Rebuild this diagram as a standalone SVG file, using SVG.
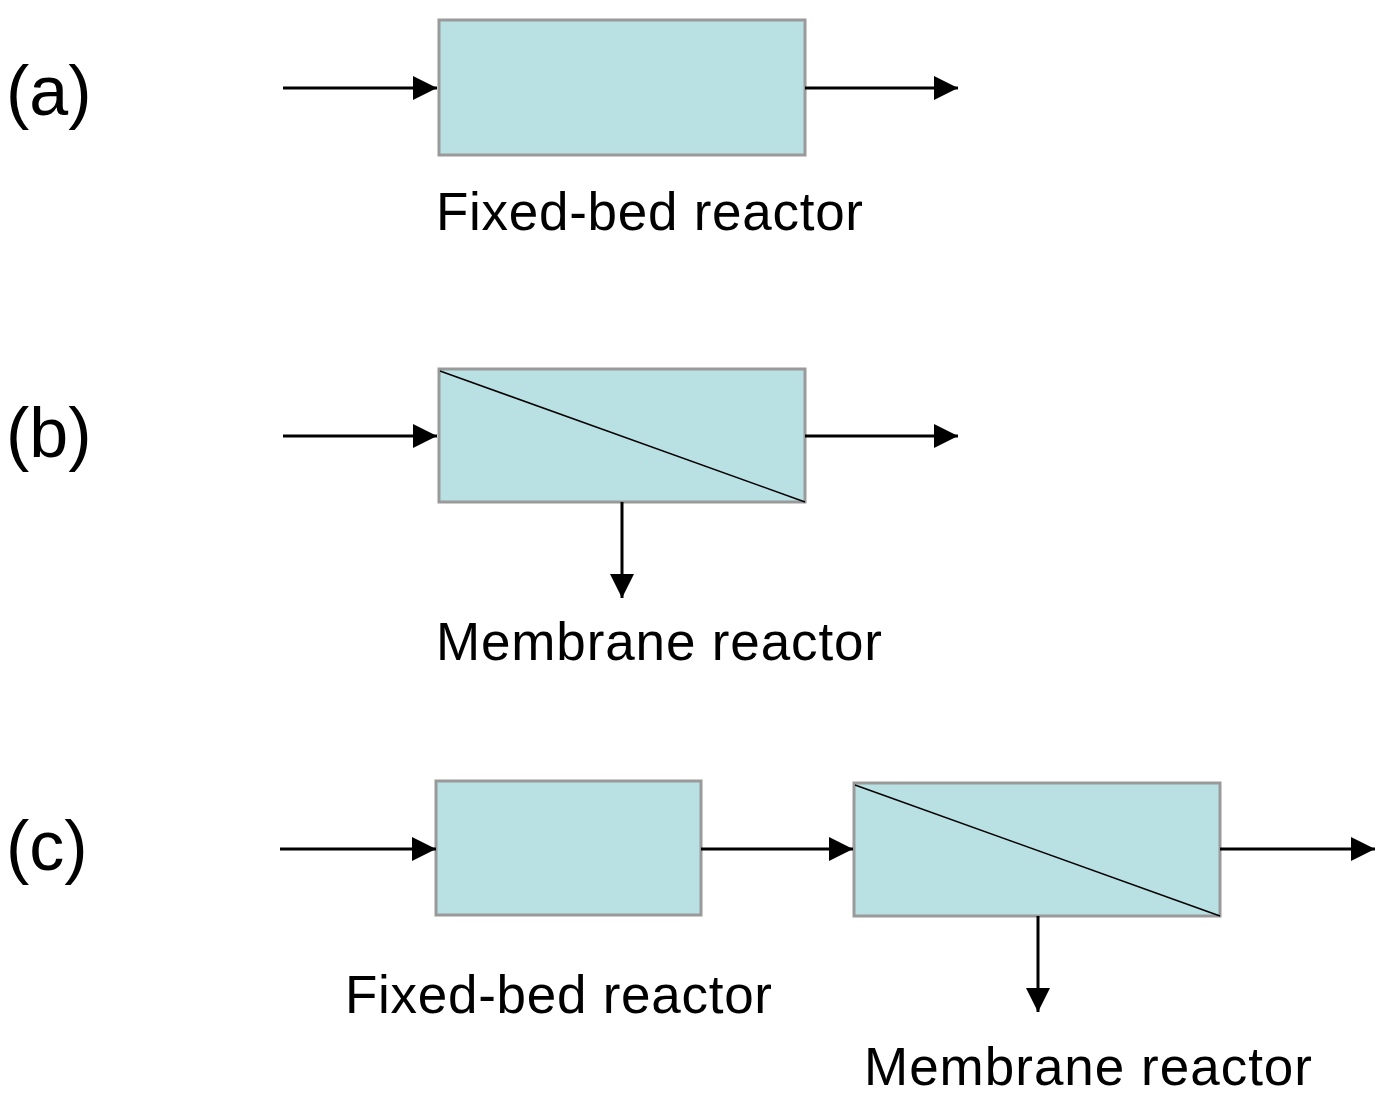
<svg xmlns="http://www.w3.org/2000/svg" width="1384" height="1106" viewBox="0 0 1384 1106">
<style>
.box{fill:#b9e0e3;stroke:#9a9a9a;stroke-width:3}
.diag{stroke:#000;stroke-width:1.5}
.ln{stroke:#000;stroke-width:3;fill:none}
.lbl{font-family:"Liberation Sans",Arial,sans-serif;font-size:53px;fill:#000}
.tag{font-family:"Liberation Sans",Arial,sans-serif;font-size:70px;fill:#000}
</style>
<defs>
<marker id="ah" markerWidth="8" markerHeight="8" refX="8" refY="4" orient="auto" markerUnits="strokeWidth">
<path d="M0,0 L8,4 L0,8 Z" fill="#000"/>
</marker>
</defs>
<rect width="1384" height="1106" fill="#fff"/>
<text class="tag" x="6" y="115">(a)</text>
<text class="tag" x="6" y="457">(b)</text>
<text class="tag" x="6" y="870">(c)</text>
<g id="a-fixed"><rect class="box" x="439" y="20" width="366" height="135"/></g>
<g id="b-membrane"><rect class="box" x="439" y="369" width="366" height="133"/><line class="diag" x1="440" y1="371" x2="805" y2="502"/></g>
<g id="c-fixed"><rect class="box" x="436" y="781" width="265" height="134"/></g>
<g id="c-membrane"><rect class="box" x="854" y="783" width="366" height="133"/><line class="diag" x1="855" y1="785" x2="1220" y2="916"/></g>
<g id="connectors">
<line class="ln" x1="283" y1="88" x2="437" y2="88" marker-end="url(#ah)"/>
<line class="ln" x1="805" y1="88" x2="958" y2="88" marker-end="url(#ah)"/>
<line class="ln" x1="283" y1="436" x2="437" y2="436" marker-end="url(#ah)"/>
<line class="ln" x1="805" y1="436" x2="958" y2="436" marker-end="url(#ah)"/>
<line class="ln" x1="622" y1="502" x2="622" y2="598" marker-end="url(#ah)"/>
<line class="ln" x1="280" y1="849" x2="436" y2="849" marker-end="url(#ah)"/>
<line class="ln" x1="701" y1="849" x2="853" y2="849" marker-end="url(#ah)"/>
<line class="ln" x1="1220" y1="849" x2="1375" y2="849" marker-end="url(#ah)"/>
<line class="ln" x1="1038" y1="916" x2="1038" y2="1012" marker-end="url(#ah)"/>
</g>
<text class="lbl" x="436" y="230" textLength="427">Fixed-bed reactor</text>
<text class="lbl" x="436" y="660" textLength="446">Membrane reactor</text>
<text class="lbl" x="345" y="1013" textLength="427">Fixed-bed reactor</text>
<text class="lbl" x="864" y="1085" textLength="448">Membrane reactor</text>
</svg>
